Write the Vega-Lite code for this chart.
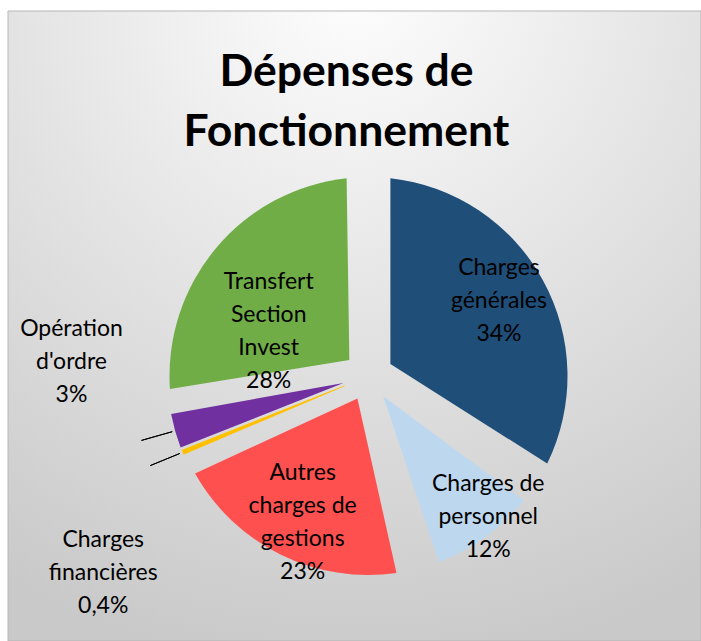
{
  "$schema": "https://vega.github.io/schema/vega-lite/v6.json",
  "width": 693,
  "height": 630,
  "autosize": {"type": "none"},
  "padding": {"left": 8, "top": 11, "right": 0, "bottom": 0},
  "background": "#ffffff",
  "config": {"view": {"stroke": null}},
  "title": {
    "text": ["Dépenses de", "Fonctionnement"],
    "font": "Lato",
    "fontSize": 44.5,
    "fontWeight": "bold",
    "color": "#000000",
    "anchor": "middle",
    "frame": "group",
    "baseline": "alphabetic",
    "lineHeight": 60,
    "offset": -180,
    "dx": -8
  },
  "datasets": {
    "depenses": [
      {"poste": "Charges générales", "valeur": 34, "etiquette": "Charges\ngénérales\n34%", "rang": 1},
      {"poste": "Charges de personnel", "valeur": 12, "etiquette": "Charges de\npersonnel\n12%", "rang": 2},
      {"poste": "Autres charges de gestions", "valeur": 22.6, "etiquette": "Autres\ncharges de\ngestions\n23%", "rang": 3},
      {"poste": "Charges financières", "valeur": 0.4, "etiquette": "Charges\nfinancières\n0,4%", "rang": 4},
      {"poste": "Opération d'ordre", "valeur": 3.2, "etiquette": "Opération\nd'ordre\n3%", "rang": 5},
      {"poste": "Transfert Section Invest", "valeur": 27.8, "etiquette": "Transfert\nSection\nInvest\n28%", "rang": 6}
    ],
    "fond": [{"panneau": "fond"}]
  },
  "data": {"name": "depenses"},
  "layer": [
    {
      "data": {"name": "fond"},
      "mark": {
        "type": "rect",
        "fill": {
          "gradient": "radial",
          "x1": 0.5, "y1": 0, "r1": 0,
          "x2": 0.5, "y2": 0, "r2": 1,
          "stops": [
            {"offset": 0, "color": "#fefefe"},
            {"offset": 0.5, "color": "#e3e3e3"},
            {"offset": 1, "color": "#c9c9c9"}
          ]
        },
        "stroke": "#b5b5b5",
        "strokeWidth": 1
      },
      "encoding": {}
    },
    {
      "mark": {"type": "arc", "outerRadius": 199, "innerRadius": 25, "padAngle": 0.2187, "xOffset": 14, "yOffset": 50},
      "encoding": {
        "theta": {"field": "valeur", "type": "quantitative", "stack": true},
        "order": {"field": "rang", "type": "quantitative"},
        "color": {
          "field": "poste", "type": "nominal", "legend": null,
          "scale": {
            "domain": ["Charges générales", "Charges de personnel", "Autres charges de gestions", "Charges financières", "Opération d'ordre", "Transfert Section Invest"],
            "range": ["#1F4E79", "#BDD7EE", "#FF5050", "#FFC000", "#7030A0", "#70AD47"]
          }
        },
        "opacity": {"condition": {"test": "datum.valeur < 5", "value": 0}, "value": 1}
      }
    },
    {
      "mark": {"type": "arc", "outerRadius": 201, "innerRadius": 26, "padAngle": 0.0276, "xOffset": 14, "yOffset": 50},
      "encoding": {
        "theta": {"field": "valeur", "type": "quantitative", "stack": true},
        "order": {"field": "rang", "type": "quantitative"},
        "color": {"field": "poste", "type": "nominal", "legend": null},
        "opacity": {"condition": {"test": "datum.rang === 5", "value": 1}, "value": 0}
      }
    },
    {
      "mark": {"type": "arc", "outerRadius": 201, "innerRadius": 26, "padAngle": 0, "xOffset": 14, "yOffset": 50},
      "encoding": {
        "theta": {"field": "valeur", "type": "quantitative", "stack": true},
        "order": {"field": "rang", "type": "quantitative"},
        "color": {"field": "poste", "type": "nominal", "legend": null},
        "opacity": {"condition": {"test": "datum.rang === 4", "value": 1}, "value": 0}
      }
    },
    {
      "mark": {"type": "arc", "outerRadius": 236, "innerRadius": 204, "padAngle": 3, "filled": false, "stroke": "#000000", "strokeWidth": 1, "xOffset": 14, "yOffset": 50},
      "encoding": {
        "theta": {"field": "valeur", "type": "quantitative", "stack": true},
        "order": {"field": "rang", "type": "quantitative"},
        "detail": {"field": "poste", "type": "nominal"},
        "opacity": {"condition": {"test": "datum.valeur < 5", "value": 1}, "value": 0}
      }
    },
    {
      "mark": {"type": "text", "radius": 150, "dx": -1, "dy": -36, "align": "center", "baseline": "middle", "font": "Lato", "fontSize": 23, "lineHeight": 33, "lineBreak": "\n", "fill": "#000000", "xOffset": 14, "yOffset": 50},
      "encoding": {
        "theta": {"field": "valeur", "type": "quantitative", "stack": true},
        "order": {"field": "rang", "type": "quantitative"},
        "detail": {"field": "poste", "type": "nominal"},
        "text": {"field": "etiquette", "type": "nominal"},
        "opacity": {"condition": {"test": "datum.rang === 1", "value": 1}, "value": 0}
      }
    },
    {
      "mark": {"type": "text", "radius": 185, "dx": 11, "dy": -41.5, "align": "center", "baseline": "middle", "font": "Lato", "fontSize": 23, "lineHeight": 33, "lineBreak": "\n", "fill": "#000000", "xOffset": 14, "yOffset": 50},
      "encoding": {
        "theta": {"field": "valeur", "type": "quantitative", "stack": true},
        "order": {"field": "rang", "type": "quantitative"},
        "detail": {"field": "poste", "type": "nominal"},
        "text": {"field": "etiquette", "type": "nominal"},
        "opacity": {"condition": {"test": "datum.rang === 2", "value": 1}, "value": 0}
      }
    },
    {
      "mark": {"type": "text", "radius": 160, "dx": 5, "dy": -46.5, "align": "center", "baseline": "middle", "font": "Lato", "fontSize": 23, "lineHeight": 33, "lineBreak": "\n", "fill": "#000000", "xOffset": 14, "yOffset": 50},
      "encoding": {
        "theta": {"field": "valeur", "type": "quantitative", "stack": true},
        "order": {"field": "rang", "type": "quantitative"},
        "detail": {"field": "poste", "type": "nominal"},
        "text": {"field": "etiquette", "type": "nominal"},
        "opacity": {"condition": {"test": "datum.rang === 3", "value": 1}, "value": 0}
      }
    },
    {
      "mark": {"type": "text", "radius": 290, "dx": 3, "dy": 54, "align": "center", "baseline": "middle", "font": "Lato", "fontSize": 23, "lineHeight": 33, "lineBreak": "\n", "fill": "#000000", "xOffset": 14, "yOffset": 50},
      "encoding": {
        "theta": {"field": "valeur", "type": "quantitative", "stack": true},
        "order": {"field": "rang", "type": "quantitative"},
        "detail": {"field": "poste", "type": "nominal"},
        "text": {"field": "etiquette", "type": "nominal"},
        "opacity": {"condition": {"test": "datum.rang === 4", "value": 1}, "value": 0}
      }
    },
    {
      "mark": {"type": "text", "radius": 290, "dx": -18, "dy": -126.5, "align": "center", "baseline": "middle", "font": "Lato", "fontSize": 23, "lineHeight": 33, "lineBreak": "\n", "fill": "#000000", "xOffset": 14, "yOffset": 50},
      "encoding": {
        "theta": {"field": "valeur", "type": "quantitative", "stack": true},
        "order": {"field": "rang", "type": "quantitative"},
        "detail": {"field": "poste", "type": "nominal"},
        "text": {"field": "etiquette", "type": "nominal"},
        "opacity": {"condition": {"test": "datum.rang === 5", "value": 1}, "value": 0}
      }
    },
    {
      "mark": {"type": "text", "radius": 110, "dx": -15.5, "dy": -23, "align": "center", "baseline": "middle", "font": "Lato", "fontSize": 23, "lineHeight": 33, "lineBreak": "\n", "fill": "#000000", "xOffset": 14, "yOffset": 50},
      "encoding": {
        "theta": {"field": "valeur", "type": "quantitative", "stack": true},
        "order": {"field": "rang", "type": "quantitative"},
        "detail": {"field": "poste", "type": "nominal"},
        "text": {"field": "etiquette", "type": "nominal"},
        "opacity": {"condition": {"test": "datum.rang === 6", "value": 1}, "value": 0}
      }
    }
  ]
}
